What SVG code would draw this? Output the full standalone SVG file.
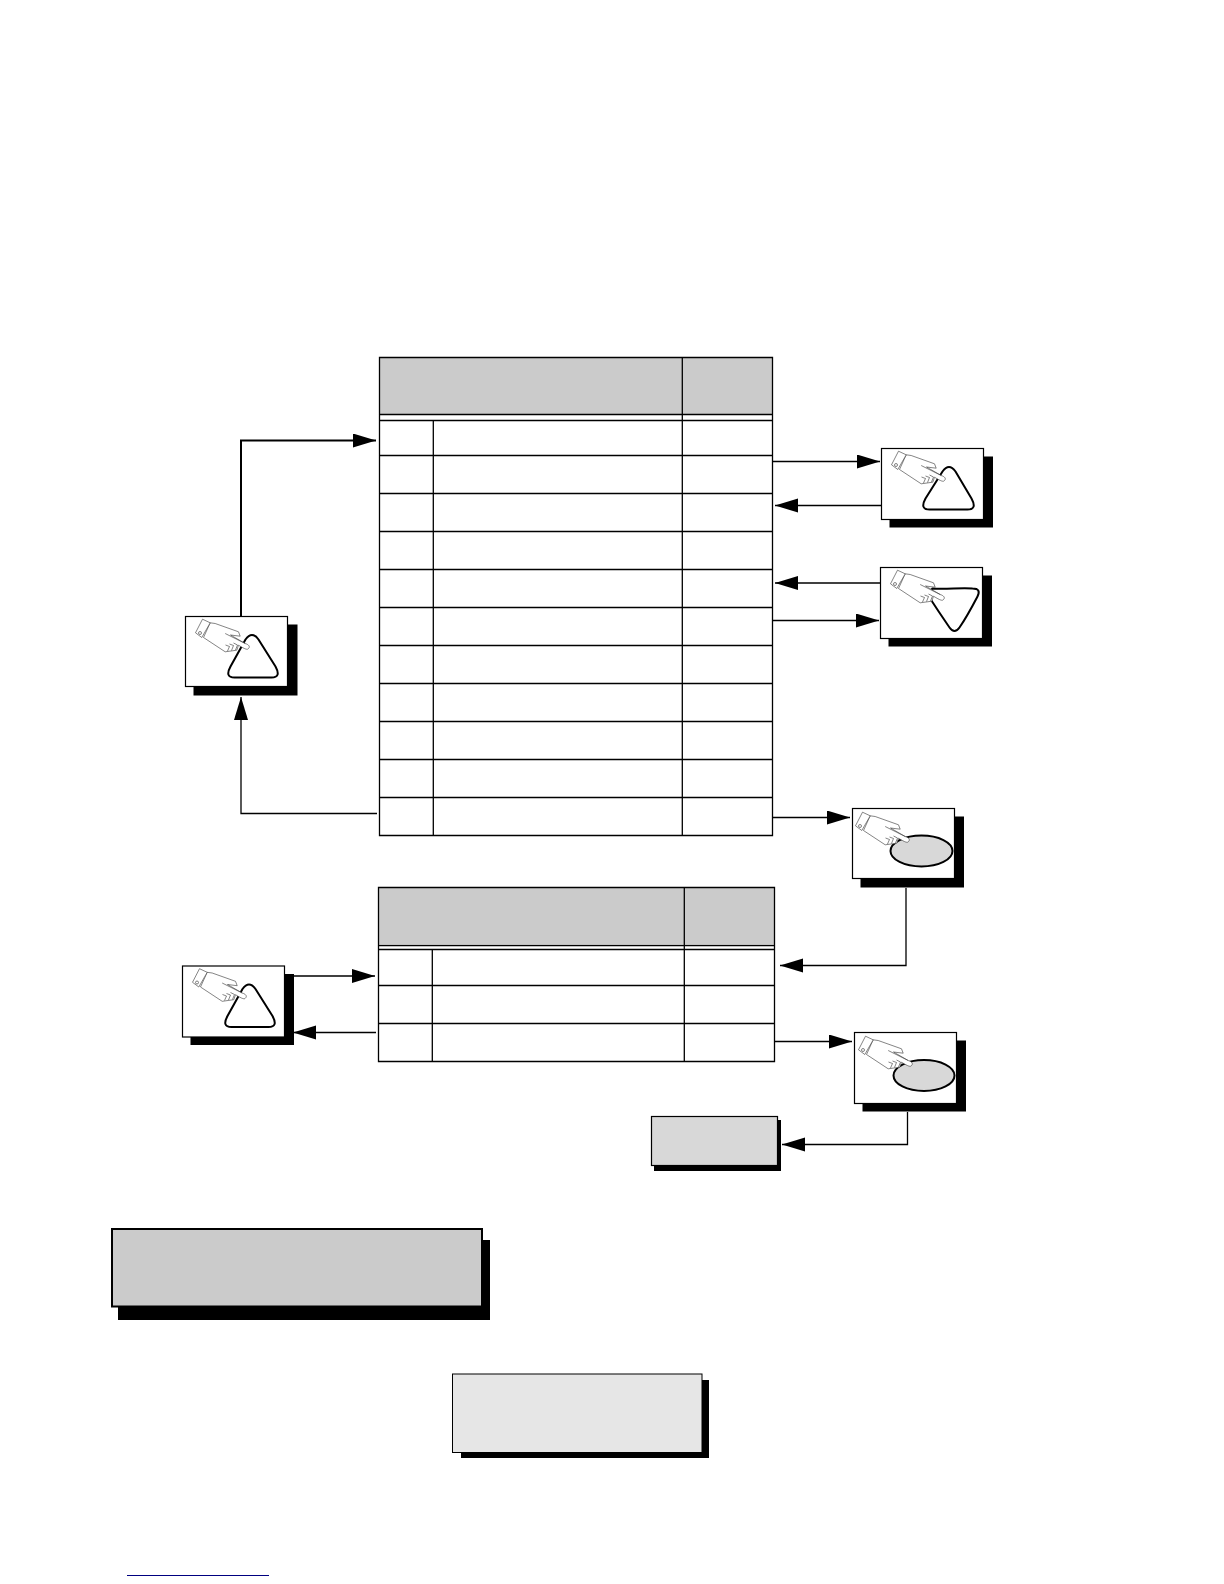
<svg xmlns="http://www.w3.org/2000/svg" xmlns:xlink="http://www.w3.org/1999/xlink" width="1224" height="1584" viewBox="0 0 1224 1584">
<style>
.tb{fill:none;stroke:#000;stroke-width:1.3}
.hdr{fill:#cbcbcb;stroke:none}
.card{fill:#fff;stroke:#000;stroke-width:1.2}
.sh{fill:#000;stroke:none}
.tri{fill:#fff;stroke:#000;stroke-width:2;stroke-linejoin:round}
.el{fill:#d8d8d8;stroke:#000;stroke-width:2}
.h{fill:#fff;stroke:#333;stroke-width:.6;stroke-linejoin:round}
.c{stroke:#000;stroke-width:1.3;fill:none}
.cb{stroke:#000;stroke-width:2;fill:none}
</style>
<defs>
<marker id="a" markerUnits="userSpaceOnUse" markerWidth="24" markerHeight="16" refX="23" refY="7" orient="auto"><path d="M0 0L23 7L0 14Z" fill="#000"/></marker>
<g id="hand">
<path class="h" d="M24.7 6.3L29.7 7L53 15.3L54.7 19.7L45 18.5L59.7 27C63 28 65 30 63 32C62 33.5 60 33 53 28.7L51.3 33.7L39.7 35.3L18 21Z"/>
<path class="h" d="M17 2.7L24.7 6.3L16.3 21L10 16.3Z"/>
<circle class="h" cx="14.5" cy="16.5" r="1.5"/>
<path class="h" d="M39.7 17L59.7 27M40 28.5L44 30L42 34.5M44 27.5L48 29L46 34M48 26.5L52 28.5L50 33.5"/>
</g>
</defs>
<rect width="1224" height="1584" fill="#fff"/>

<g id="table1">
<rect class="hdr" x="379.5" y="357.5" width="392.5" height="57"/>
<path class="tb" d="M379.5 357.5H772.5V835.5H379.5ZM682.3 357.5V835.5M433.3 420.5V835.5M379.5 414.5H772.5M379.5 420.5H772.5M379.5 455.5H772.5M379.5 493.5H772.5M379.5 531.5H772.5M379.5 569.5H772.5M379.5 607.5H772.5M379.5 645.5H772.5M379.5 683.5H772.5M379.5 721.5H772.5M379.5 759.5H772.5M379.5 797.5H772.5"/>
</g>
<g id="table2">
<rect class="hdr" x="378.5" y="887.5" width="396" height="56.5"/>
<path class="tb" d="M378.5 887.5H774.5V1061.5H378.5ZM684.3 887.5V1061.5M432.3 949.5V1061.5M378.5 945.5H774.5M378.5 949.5H774.5M378.5 985.5H774.5M378.5 1023.5H774.5"/>
</g>

<g id="connectors">
<path class="cb" marker-end="url(#a)" d="M241 616V440.5H376"/>
<path class="c" marker-end="url(#a)" d="M377 813.5H241V697"/>
<path class="c" marker-end="url(#a)" d="M773 461.5H880"/>
<path class="c" marker-end="url(#a)" d="M881 505.5H775"/>
<path class="c" marker-end="url(#a)" d="M880 583H775"/>
<path class="c" marker-end="url(#a)" d="M773 620.5H879"/>
<path class="c" marker-end="url(#a)" d="M773 817.5H850"/>
<path class="c" marker-end="url(#a)" d="M906 888V965.5H780"/>
<path class="c" marker-end="url(#a)" d="M293 976H375"/>
<path class="c" marker-end="url(#a)" d="M376 1032.5H293"/>
<path class="c" marker-end="url(#a)" d="M775 1041.5H852"/>
<path class="c" marker-end="url(#a)" d="M907.5 1112V1144.5H782"/>
</g>

<g id="n-left-up" transform="translate(185.5 616.5)">
<rect class="sh" x="8" y="8" width="104" height="71"/><rect class="card" width="102" height="70"/>
<path class="tri" d="M60 23Q66.5 14 73 23L90 50Q96 61 86 61H49Q39 61 45 50Z"/>
<use href="#hand" xlink:href="#hand"/>
</g>
<g id="n-right-up" transform="translate(881.5 448.5)">
<rect class="sh" x="8" y="8" width="103.5" height="71"/><rect class="card" width="102" height="71"/>
<path class="tri" d="M61 23Q67.5 14 74 23L90 50Q96 61 86 61H48Q38 61 44 50Z"/>
<use href="#hand" xlink:href="#hand"/>
</g>
<g id="n-right-down" transform="translate(880.5 567.5)">
<rect class="sh" x="8" y="8" width="103.5" height="71"/><rect class="card" width="102" height="71"/>
<path class="tri" d="M52 21C66 22 80 20 92 21Q101 21 97 29Q86 50 79 60Q74 67 69 60Q58 44 47 27Z"/>
<use href="#hand" xlink:href="#hand"/>
</g>
<g id="n-ellipse-1" transform="translate(852.5 808.5)">
<rect class="sh" x="8" y="8" width="103.5" height="71"/><rect class="card" width="102" height="70"/>
<ellipse class="el" cx="69" cy="42.5" rx="31" ry="15.5"/>
<use href="#hand" xlink:href="#hand" x="-7" y="1"/>
</g>
<g id="n-left-2" transform="translate(182.5 966)">
<rect class="sh" x="8" y="8" width="103.5" height="71"/><rect class="card" width="102" height="71"/>
<path class="tri" d="M60 23Q66.5 14 73 23L90 50Q96 61 86 61H49Q39 61 45 50Z"/>
<use href="#hand" xlink:href="#hand"/>
</g>
<g id="n-ellipse-2" transform="translate(854.5 1032.5)">
<rect class="sh" x="8" y="8" width="103.5" height="71"/><rect class="card" width="102" height="71"/>
<ellipse class="el" cx="69.5" cy="43" rx="30.5" ry="15.5"/>
<use href="#hand" xlink:href="#hand" x="-6" y="1"/>
</g>
<g id="n-small">
<rect class="sh" x="654" y="1120" width="127" height="51"/>
<rect class="card" style="fill:#d8d8d8" x="651.5" y="1116.5" width="126" height="49"/>
</g>
<g id="n-big">
<rect class="sh" x="118" y="1240" width="372" height="80"/>
<rect class="card" style="fill:#cbcbcb;stroke-width:2" x="112" y="1229" width="370" height="77.5"/>
</g>
<g id="n-light">
<rect class="sh" x="461" y="1380" width="248" height="78"/>
<rect class="card" style="fill:#e6e6e6;stroke-width:1" x="452.5" y="1374" width="249.5" height="78.5"/>
</g>
<path id="link-line" d="M127 1575.5H269" stroke="#000080" stroke-width="1.2" fill="none"/>
</svg>
